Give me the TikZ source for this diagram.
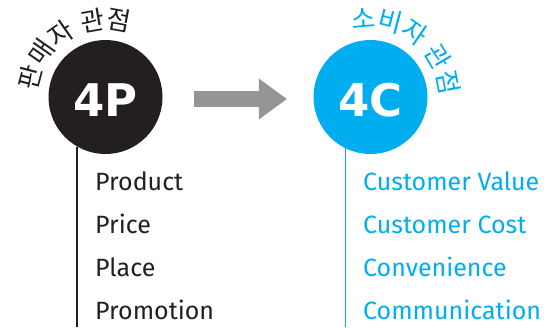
\documentclass[tikz,border=0pt]{standalone}
\usepackage{fontspec}
\setmainfont{Fira Sans}
\newfontfamily\krfont{Noto Sans CJK KR}
\newfontfamily\bigfont{DejaVu Sans}
\usetikzlibrary{arrows.meta,decorations.text}
\definecolor{pdark}{HTML}{231F20}
\definecolor{pcyan}{HTML}{00AEEF}
\definecolor{pgray}{HTML}{959595}

\begin{document}
\begin{tikzpicture}[x=1pt,y=1pt,
    bigstyle/.style={circle,fill=#1,minimum size=114pt,inner sep=0pt,text=white,
        text height=39pt,font=\bigfont\bfseries\fontsize{45}{45}\selectfont},
    itemstyle/.style={anchor=base west,inner sep=0pt,text=#1,font=\fontsize{25}{25}\selectfont},
    arcstyle/.style={decorate,decoration={text along path,text align=center,text color=#1}}]
    \useasboundingbox (0,0) rectangle (559,-327);
    % the two circles
    \node[bigstyle=pdark] (p4) at (105.5,-97) {4P};
    \node[bigstyle=pcyan] (c4) at (370.5,-97) {4C};
    \coordinate (bot) at (0,-327);
    \draw[pdark,line width=1.3pt] (p4.-120) -- (p4.-120 |- bot);
    \draw[pcyan,line width=1pt] (c4.-116) -- (c4.-116 |- bot);
    % grey block arrow
    \draw[pgray,line width=16pt,-{Triangle[length=28pt,width=41pt,line width=0pt]},
        shorten <=31.5pt,shorten >=26.5pt] ([yshift=-2pt]p4.east) -- ([yshift=-2pt]c4.west);
    % curved headings
    \path[arcstyle=pdark,decoration={text={|\krfont\fontsize{26}{26}\selectfont|판매자 관점}}]
        ([shift={(187.5:68)}]p4.center) arc[start angle=187.5,end angle=57.5,radius=68];
    \path[arcstyle=pcyan,decoration={text={|\krfont\fontsize{26}{26}\selectfont|소비자 관점}}]
        ([shift={(118:69)}]c4.center) arc[start angle=118,end angle=-12,radius=69];
    % lists
    \foreach \name [count=\i] in {Product,Price,Place,Promotion}
        \node[itemstyle=pdark] (p\i) at (95,-147.5-43*\i) {\name};
    \foreach \name [count=\i] in {Customer Value,Customer Cost,Convenience,Communication}
        \node[itemstyle=pcyan] (c\i) at (363,-147.5-43*\i) {\name};
\end{tikzpicture}
\end{document}
